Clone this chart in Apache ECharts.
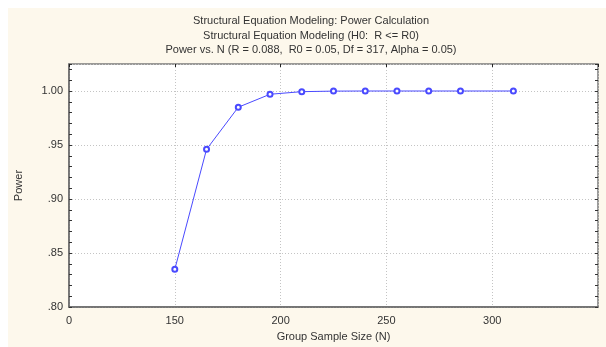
<!DOCTYPE html>
<html>
<head>
<meta charset="utf-8">
<script src="https://cdn.jsdelivr.net/npm/echarts@6/dist/echarts.min.js"></script>
<style>
html,body{margin:0;padding:0;background:#ffffff;}
#chart{width:606px;height:347px;}
</style>
</head>
<body>
<div id="chart"></div>
<script>
// Data
const sampleSizes = [150, 165, 180, 195, 210, 225, 240, 255, 270, 285, 310];
const powerValues = [0.835, 0.946, 0.985, 0.997, 0.9994, 0.9999, 1.0, 1.0, 1.0, 1.0, 1.0];
const xTickLabels = {100: '0', 150: '150', 200: '200', 250: '250', 300: '300'};
const yTickLabels = {0.8: '.80', 0.85: '.85', 0.9: '.90', 0.95: '.95', 1: '1.00'};
const titleLines = [
  'Structural Equation Modeling: Power Calculation',
  'Structural Equation Modeling (H0:  R <= R0)',
  'Power vs. N (R = 0.088,  R0 = 0.05, Df = 317, Alpha = 0.05)'
];
const xName = 'Group Sample Size (N)';
const yName = 'Power';

const font = 'Liberation Sans, Arial, sans-serif';
const textColor = '#333';
const chart = echarts.init(document.getElementById('chart'));

const gridLine = {show: true, lineStyle: {color: '#c4c4c4', type: [1, 2], width: 1}};
const yFmt = v => { const k = Math.round(v * 100) / 100; return yTickLabels[k] !== undefined ? yTickLabels[k] : ''; };

chart.setOption({
  backgroundColor: '#ffffff',
  animation: false,
  graphic: [
    {type: 'rect', z: -10, shape: {x: 8, y: 8, width: 598, height: 339}, style: {fill: '#fdf8ec'}},
    {type: 'text', x: 311, y: 21, style: {text: titleLines[0], font: '11px ' + font, fill: textColor, textAlign: 'center', textVerticalAlign: 'middle'}},
    {type: 'text', x: 311, y: 35.5, style: {text: titleLines[1], font: '11px ' + font, fill: textColor, textAlign: 'center', textVerticalAlign: 'middle'}},
    {type: 'text', x: 311, y: 50, style: {text: titleLines[2], font: '11px ' + font, fill: textColor, textAlign: 'center', textVerticalAlign: 'middle'}}
  ],
  grid: {left: 69, right: 8, top: 64, bottom: 35, show: true, backgroundColor: '#ffffff', borderColor: '#7a7a7a', borderWidth: 1.5, containLabel: false},
  xAxis: [
    {
      type: 'value', min: 100, max: 350, interval: 50,
      name: xName, nameLocation: 'middle', nameGap: 23,
      nameTextStyle: {fontFamily: font, fontSize: 11, color: textColor},
      axisLine: {show: true, onZero: false, lineStyle: {color: '#6a6a6a', width: 1.5}},
      axisTick: {show: false},
      axisLabel: {fontFamily: font, fontSize: 11, color: textColor, margin: 8, showMaxLabel: false,
        formatter: v => xTickLabels[v] !== undefined ? xTickLabels[v] : ''},
      splitLine: gridLine
    },
    {
      type: 'value', min: 100, max: 350, interval: 50, position: 'top',
      axisLine: {show: false}, axisLabel: {show: false}, splitLine: {show: false},
      axisTick: {show: true, inside: true, length: 3, lineStyle: {color: '#222'}}
    }
  ],
  yAxis: [
    {
      type: 'value', min: 0.8, max: 1.025, interval: 0.05,
      name: yName, nameLocation: 'middle', nameGap: 45, nameRotate: 90,
      nameTextStyle: {fontFamily: font, fontSize: 11, color: textColor},
      axisLine: {show: true, onZero: false, lineStyle: {color: '#6a6a6a', width: 1.5}},
      axisTick: {show: true, inside: true, length: 3, lineStyle: {color: '#333'}},
      minorTick: {show: true, splitNumber: 5, length: 3, lineStyle: {color: '#333'}},
      axisLabel: {fontFamily: font, fontSize: 11, color: textColor, margin: 6, showMaxLabel: false, formatter: yFmt},
      splitLine: gridLine
    },
    {
      type: 'value', min: 0.8, max: 1.025, interval: 0.05, position: 'right',
      axisLine: {show: false}, axisLabel: {show: false}, splitLine: {show: false},
      axisTick: {show: true, inside: true, length: 3, lineStyle: {color: '#333'}},
      minorTick: {show: true, splitNumber: 5, length: 3, lineStyle: {color: '#333'}}
    }
  ],
  series: [{
    type: 'line',
    data: sampleSizes.map((n, i) => [n, powerValues[i]]),
    symbol: 'emptyCircle', symbolSize: 5,
    lineStyle: {color: '#4a4aff', width: 1},
    itemStyle: {color: '#4a4aff', borderWidth: 0.8},
    showSymbol: true
  }]
});
</script>
</body>
</html>
